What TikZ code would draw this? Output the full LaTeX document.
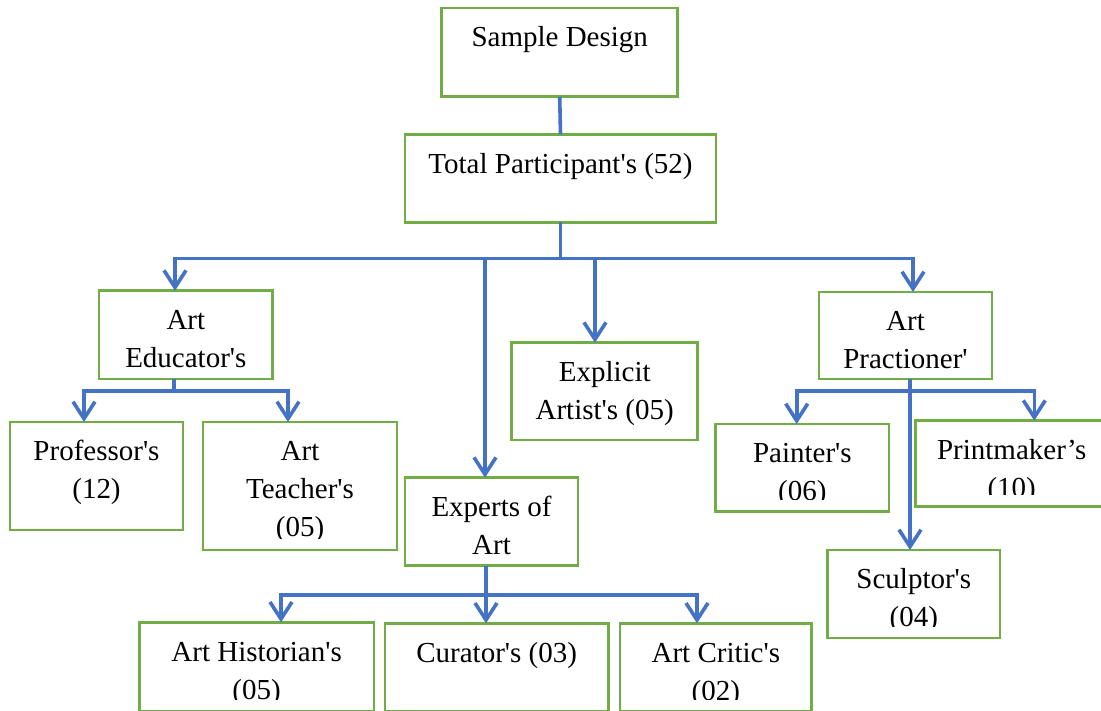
\documentclass[tikz,border=0pt]{standalone}
\usepackage{fontspec}
\newfontfamily\boxfont{Liberation Serif}
\usetikzlibrary{arrows.meta}

\definecolor{boxgreen}{RGB}{112,173,71}
\definecolor{linkblue}{RGB}{68,114,196}

\tikzset{
  box/.style={draw=boxgreen, line width=2.6pt, rectangle, inner sep=0pt, outer sep=0pt, fill=white},
  lbl/.style={anchor=north, inner sep=0pt, align=center, text=black,
              font=\boxfont\fontsize{29}{38}\selectfont},
  link/.style={draw=linkblue, line width=3.6pt, line join=miter},
  arrowlink/.style={link, -{Straight Barb[length=17pt, width=22pt, line width=3.6pt]}},
}

% text set at the top of a box; the optional margin cuts it off above the lower edge
\newcommand\boxtext[3][12pt]{%
  \begin{scope}
    \clip (#2.north west) rectangle ([yshift=#1]#2.south east);
    \node[lbl] (#2-t) at ([yshift=-12pt]#2.north) {\strut #3};
  \end{scope}}

\begin{document}
\begin{tikzpicture}[x=1pt, y=-1pt]
\clip (0,0) rectangle (1101,710);
\fill[white] (0,0) rectangle (1101,710);

% boxes (centre, width, height)
\node[box, minimum width=236pt, minimum height=88.7pt] (sd)    at (559.7,52.4)  {};
\node[box, minimum width=311pt, minimum height=88pt]   (tp)    at (560.5,178.3) {};
\node[box, minimum width=173.7pt, minimum height=88.3pt] (edu) at (185.85,334.85) {};
\node[box, minimum width=173pt, minimum height=108pt]  (prof)  at (96.5,476)    {};
\node[box, minimum width=194pt, minimum height=128pt]  (teach) at (300,486)     {};
\node[box, minimum width=186pt, minimum height=97.3pt] (expl)  at (604.7,391.35) {};
\node[box, minimum width=173pt, minimum height=88pt]   (exp)   at (491.5,521.7) {};
\node[box, minimum width=234.7pt, minimum height=88.7pt] (hist) at (256.65,666.65) {};
\node[box, minimum width=223.3pt, minimum height=87.7pt] (cur)  at (496.65,667.15) {};
\node[box, minimum width=191.7pt, minimum height=87.7pt] (crit) at (715.85,667.15) {};
\node[box, minimum width=173pt, minimum height=87pt]   (prac)  at (905.5,335.5) {};
\node[box, minimum width=173.3pt, minimum height=87.7pt] (paint) at (802.35,467.85) {};
\node[box, minimum width=192pt, minimum height=86pt]   (print) at (1011.7,463.7) {};
\node[box, minimum width=172.3pt, minimum height=88pt] (sculp) at (913.85,594)  {};

% texts
\boxtext{sd}{Sample Design}
\boxtext{tp}{Total Participant's (52)}
\boxtext[0pt]{edu}{Art\\Educator's}
\boxtext{prof}{Professor's\\(12)}
\boxtext{teach}{Art\\Teacher's\\(05)}
\boxtext{expl}{Explicit\\Artist's (05)}
\boxtext[0pt]{exp}{Experts of\\Art}
\boxtext{hist}{Art Historian's\\(05)}
\boxtext{cur}{Curator's (03)}
\boxtext{crit}{Art Critic's\\(02)}
\boxtext[0pt]{prac}{Art\\Practioner'}
\boxtext{paint}{Painter's\\(06)}
\boxtext{print}{Printmaker’s\\(10)}
\boxtext{sculp}{Sculptor's\\(04)}

% junctions of the branch lines
\coordinate (j0) at (560.5,258.5);
\coordinate (j1) at (174,391);
\coordinate (j2) at (486,595);
\coordinate (j3) at (910,390.7);

% Sample Design -> Total
\draw[link] (sd.south) -- (tp.north);

% Total -> first level
\draw[link] (tp.south) -- (j0);
\draw[arrowlink] (j0) -| ([xshift=-10.85pt]edu.north);
\draw[arrowlink] (j0) -| ([xshift=-6.5pt]exp.north);
\draw[arrowlink] (j0) -| ([xshift=-9.7pt]expl.north);
\draw[arrowlink] (j0) -| ([xshift=7.5pt]prac.north);

% Art Educator's
\draw[link] ([xshift=-11.85pt]edu.south) -- (j1);
\draw[arrowlink] (j1) -| ([xshift=-12.5pt]prof.north);
\draw[arrowlink] (j1) -| ([xshift=-12pt]teach.north);

% Experts of Art
\draw[link] ([xshift=-5.5pt]exp.south) -- (j2);
\draw[arrowlink] (j2) -| ([xshift=24.35pt]hist.north);
\draw[arrowlink] (j2) -- ([xshift=-10.65pt]cur.north);
\draw[arrowlink] (j2) -| ([xshift=-18.85pt]crit.north);

% Art Practioner'
\draw[link] ([xshift=4.5pt]prac.south) -- (j3);
\draw[arrowlink] (j3) -| ([xshift=-5.65pt]paint.north);
\draw[arrowlink] (j3) -| ([xshift=22.6pt]print.north);
\draw[arrowlink] (j3) -- ([xshift=-3.85pt]sculp.north);
\end{tikzpicture}
\end{document}
